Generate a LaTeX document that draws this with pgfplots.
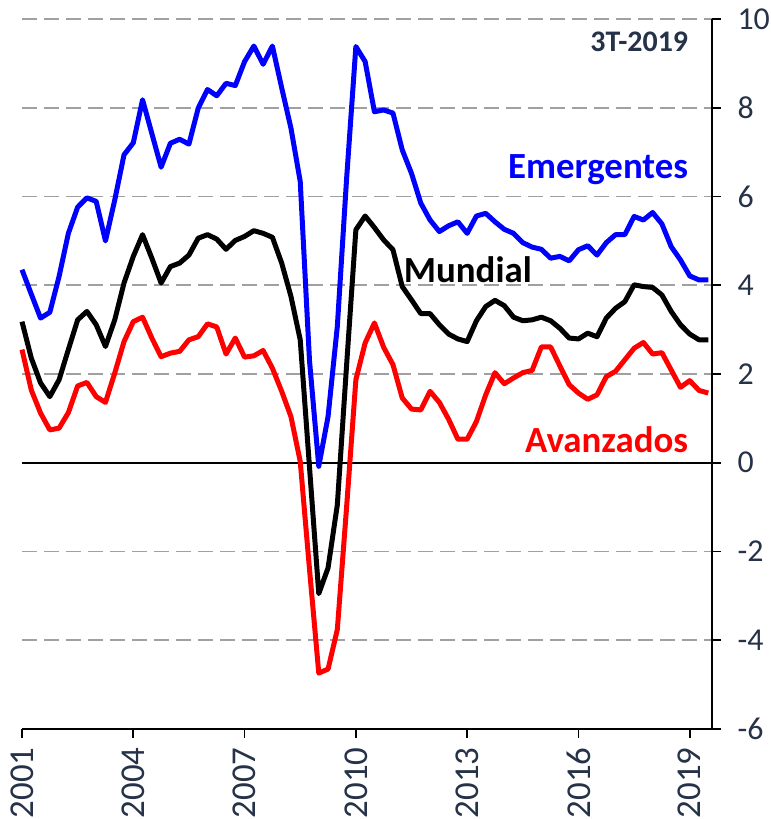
\documentclass[border=0pt]{standalone}
\usepackage{pgfplots}
\pgfplotsset{compat=1.18}
\usepackage{pgfplotstable}
\usepackage{fontspec}
\setmainfont{Carlito}

\definecolor{navy}{RGB}{38,50,72}
\definecolor{gridgray}{RGB}{160,160,160}

% t = trimestre desde 1T-2001
\pgfplotstableread{
t E M A
0 4.35 3.18 2.55
1 3.80 2.36 1.64
2 3.26 1.80 1.12
3 3.39 1.49 0.74
4 4.20 1.87 0.78
5 5.17 2.55 1.13
6 5.76 3.22 1.73
7 5.97 3.41 1.81
8 5.89 3.11 1.49
9 5.00 2.62 1.36
10 5.92 3.22 2.02
11 6.94 4.05 2.73
12 7.21 4.65 3.18
13 8.18 5.14 3.28
14 7.42 4.61 2.81
15 6.66 4.05 2.39
16 7.20 4.42 2.47
17 7.29 4.50 2.51
18 7.18 4.68 2.77
19 7.99 5.06 2.84
20 8.41 5.14 3.13
21 8.27 5.04 3.06
22 8.55 4.81 2.45
23 8.50 5.01 2.81
24 9.04 5.10 2.38
25 9.39 5.23 2.41
26 8.98 5.17 2.53
27 9.39 5.08 2.13
28 8.45 4.50 1.61
29 7.54 3.75 1.04
30 6.34 2.77 0.03
31 2.30 -0.10 -2.40
32 -0.08 -2.95 -4.74
33 1.04 -2.37 -4.65
34 3.07 -0.95 -3.76
35 6.40 2.20 -1.00
36 9.38 5.25 1.87
37 9.04 5.56 2.70
38 7.91 5.30 3.15
39 7.95 5.02 2.60
40 7.88 4.80 2.21
41 7.05 3.97 1.46
42 6.52 3.67 1.21
43 5.85 3.36 1.19
44 5.47 3.36 1.61
45 5.21 3.11 1.36
46 5.34 2.90 0.98
47 5.43 2.79 0.53
48 5.17 2.73 0.53
49 5.56 3.20 0.93
50 5.62 3.52 1.53
51 5.43 3.66 2.03
52 5.26 3.54 1.78
53 5.17 3.28 1.91
54 4.96 3.20 2.03
55 4.86 3.22 2.08
56 4.81 3.28 2.61
57 4.61 3.20 2.61
58 4.65 3.03 2.18
59 4.55 2.81 1.76
60 4.80 2.79 1.57
61 4.89 2.92 1.43
62 4.68 2.84 1.53
63 4.96 3.26 1.94
64 5.14 3.48 2.06
65 5.14 3.63 2.32
66 5.55 4.01 2.58
67 5.47 3.97 2.71
68 5.64 3.95 2.45
69 5.38 3.78 2.48
70 4.87 3.41 2.09
71 4.57 3.11 1.70
72 4.21 2.90 1.85
73 4.12 2.77 1.63
74 4.12 2.77 1.57
}\datos

\begin{document}
\begin{tikzpicture}
\begin{axis}[
  name=ax,
  scale only axis,
  width=690bp, height=710bp,
  xmin=2001, xmax=2019.6,
  ymin=-6, ymax=10,
  axis x line*=bottom,
  axis y line*=right,
  axis line style={black, line width=1.8bp},
  tick align=outside,
  major tick length=9bp,
  tick style={black, line width=1.8bp},
  xtick={2001,2004,2007,2010,2013,2016,2019},
  ytick={-6,-4,...,10},
  x tick label style={rotate=90, anchor=east, font=\fontsize{35}{40}\selectfont, text=navy},
  y tick label style={font=\fontsize{32}{38}\selectfont, text=navy},
  xticklabel shift=6bp,
  yticklabel shift=13bp,
  xticklabel style={/pgf/number format/1000 sep={}},
  /pgf/number format/assume math mode=true,
  ymajorgrids,
  major grid style={gridgray, line width=1.8bp, dash pattern=on 15bp off 7bp},
  clip=false,
]
\draw[black, line width=1.8bp] (axis cs:2001,0) -- (axis cs:2019.6,0);
\addplot[red, line width=5bp, line join=round] table[x expr=2001+\thisrow{t}/4, y=A] {\datos};
\addplot[blue, line width=5bp, line join=round] table[x expr=2001+\thisrow{t}/4, y=E] {\datos};
\addplot[black, line width=5bp, line join=round] table[x expr=2001+\thisrow{t}/4, y=M] {\datos};
\node[anchor=east, font=\bfseries\fontsize{30}{36}\selectfont, text=navy] at (axis cs:2019.05,9.48) {3T-2019};
\node[anchor=east, font=\bfseries\fontsize{37}{44}\selectfont, text=blue] at (axis cs:2019.05,6.6) {Emergentes};
\node[anchor=west, font=\bfseries\fontsize{37}{44}\selectfont, text=black] at (axis cs:2011.2,4.35) {Mundial};
\node[anchor=east, font=\bfseries\fontsize{37}{44}\selectfont, text=red] at (axis cs:2019.05,0.52) {Avanzados};
\end{axis}
\pgfresetboundingbox
\path ([shift={(-22bp,-90bp)}]ax.south west) rectangle ([shift={(59bp,19bp)}]ax.north east);
\end{tikzpicture}
\end{document}
